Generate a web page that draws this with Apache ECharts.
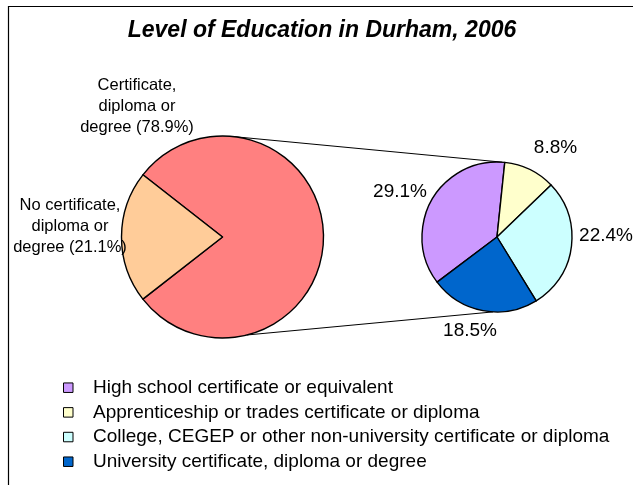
<!DOCTYPE html>
<html><head><meta charset="utf-8">
<script src="https://cdn.jsdelivr.net/npm/echarts@6/dist/echarts.min.js"></script>
<style>html,body{margin:0;padding:0;background:#fff}#c{width:633px;height:485px}</style>
</head><body><div id="c"></div>
<script>
// ---- data ----
const titleText = 'Level of Education in Durham, 2006';
const mainCategories = ['Certificate,\ndiploma or\ndegree', 'No certificate,\ndiploma or\ndegree'];
const mainValues = [78.9, 21.1];
const mainColors = ['#FF8080', '#FFCC99'];
const detailCategories = [
  'High school certificate or equivalent',
  'Apprenticeship or trades certificate or diploma',
  'College, CEGEP or other non-university certificate or diploma',
  'University certificate, diploma or degree'
];
const detailValues = [29.1, 8.8, 22.4, 18.5];
const detailColors = ['#CC99FF', '#FFFFCC', '#CCFFFF', '#0066CC'];

// ---- layout ----
const FONT = 'Liberation Sans, Arial, sans-serif';
const big = { cx: 222.5, cy: 237, r: 101, start: 142 };
const small = { cx: 497, cy: 237, r: 75, start: 217 };
const mainLabelPos = [[137, 106], [70, 226]];
const detailLabelPos = [[400, 192], [555.5, 147.5], [606, 236], [470, 331]];

function pt(p, angDeg) {
  const a = angDeg * Math.PI / 180;
  return [p.cx + p.r * Math.cos(a), p.cy - p.r * Math.sin(a)];
}
const topA = pt(big, 84), topB = pt(small, 86);
const botA = pt(big, -76), botB = pt(small, -93);

const chart = echarts.init(document.getElementById('c'), null, { renderer: 'canvas' });
chart.setOption({
  backgroundColor: '#fff',
  animation: false,
  graphic: [
    { type: 'line', shape: { x1: 8, y1: 6.5, x2: 633, y2: 6.5 }, style: { stroke: '#000', lineWidth: 1.2 } },
    { type: 'line', shape: { x1: 8.5, y1: 6, x2: 8.5, y2: 485 }, style: { stroke: '#000', lineWidth: 1.2 } },
    { type: 'line', z: 0, shape: { x1: topA[0], y1: topA[1], x2: topB[0], y2: topB[1] }, style: { stroke: '#000', lineWidth: 1 } },
    { type: 'line', z: 0, shape: { x1: botA[0], y1: botA[1], x2: botB[0], y2: botB[1] }, style: { stroke: '#000', lineWidth: 1 } },
    { type: 'text', x: 322, y: 31, style: { text: titleText, fill: '#000', font: 'italic bold 23px ' + FONT, align: 'center', verticalAlign: 'middle' } }
  ],
  legend: {
    orient: 'vertical', left: 63, top: 377.7, padding: 0,
    itemWidth: 9.5, itemHeight: 9.5, itemGap: 4.67,
    icon: 'rect', selectedMode: false,
    data: detailCategories,
    itemStyle: { borderColor: '#000', borderWidth: 1 },
    textStyle: { fontSize: 19, fontFamily: FONT, color: '#000', lineHeight: 20, padding: [0, 0, 0, 15] }
  },
  series: [
    {
      type: 'pie', center: [big.cx, big.cy], radius: big.r, startAngle: big.start, clockwise: true,
      silent: true, avoidLabelOverlap: false,
      itemStyle: { borderColor: '#000', borderWidth: 1.4 },
      label: { show: true, position: 'outside', formatter: '{b} ({c}%)', color: '#000', fontFamily: FONT, fontSize: 16.5, lineHeight: 21, align: 'center' },
      labelLine: { show: false },
      labelLayout: function (p) {
        const q = mainLabelPos[p.dataIndex];
        return { x: q[0], y: q[1], align: 'center', verticalAlign: 'middle' };
      },
      data: mainCategories.map((n, i) => ({ name: n, value: mainValues[i], itemStyle: { color: mainColors[i] } }))
    },
    {
      type: 'pie', center: [small.cx, small.cy], radius: small.r, startAngle: small.start, clockwise: true,
      silent: true, avoidLabelOverlap: false,
      itemStyle: { borderColor: '#000', borderWidth: 1.4 },
      label: { show: true, position: 'outside', formatter: '{c}%', color: '#000', fontFamily: FONT, fontSize: 19 },
      labelLine: { show: false },
      labelLayout: function (p) {
        const q = detailLabelPos[p.dataIndex];
        return { x: q[0], y: q[1], align: 'center', verticalAlign: 'middle' };
      },
      data: detailCategories.map((n, i) => ({ name: n, value: detailValues[i], itemStyle: { color: detailColors[i] } }))
    }
  ]
});
</script>
</body></html>
